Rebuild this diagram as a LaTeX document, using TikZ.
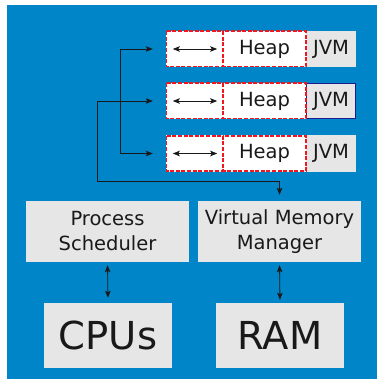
\documentclass[tikz,border=0pt]{standalone}
\usepackage{fontspec}
\setmainfont{DejaVu Sans}
\usetikzlibrary{arrows.meta}
\definecolor{panel}{HTML}{0085C8}
\definecolor{boxgray}{HTML}{E6E6E6}
\definecolor{dashred}{HTML}{F01820}
\definecolor{navy}{HTML}{1C1C8C}
\begin{document}
\begin{tikzpicture}[x=1pt,y=-1pt,
  every node/.style={font=\fontsize{19.5}{25}\selectfont, text=black!90, inner sep=0pt, anchor=center},
  slot/.style={fill=white, minimum height=36},
  redline/.style={draw=dashred, line width=1.6pt, dash pattern=on 4pt off 1.6pt},
  jvmbox/.style={fill=boxgray, minimum height=36, minimum width=50},
  block/.style={fill=boxgray, minimum width=163, minimum height=61, align=center},
  hwbox/.style={fill=boxgray, minimum width=128, minimum height=65, font=\fontsize{38.5}{44}\selectfont},
  conn/.style={-{Stealth[length=7pt,width=5.5pt,inset=1.5pt]}, line width=0.8pt, draw=black!90},
  dbl/.style={{Stealth[length=7pt,width=5.5pt,inset=1.5pt]}-{Stealth[length=7pt,width=5.5pt,inset=1.5pt]}, line width=0.8pt, draw=black!90}]
\useasboundingbox (0,0) rectangle (377,379);
\fill[panel] (7,5) rectangle (376.5,379);

% JVM labels
\node[jvmbox] (j1) at (331,49) {JVM};
\node[jvmbox, draw=navy, line width=1pt, minimum width=49, minimum height=35] (j2) at (331,101) {JVM};
\node[jvmbox] (j3) at (331,153.5) {JVM};

% three JVM rows: slot and heap with dashed red outlines
\foreach \r/\y in {1/49,2/101,3/153.5}{
  \node[slot, minimum width=57] (a\r) at (194.5,\y) {};
  \node[slot, minimum width=83] (h\r) at (264.5,\y) {Heap};
  \draw[redline] ([shift={(0.5,0.5)}]a\r.north west) rectangle ([shift={(-0.5,-0.5)}]a\r.south east);
  \draw[redline] ([shift={(0.5,0.5)}]h\r.north west) rectangle ([shift={(-0.5,-0.5)}]h\r.south east);
  \draw[dbl] ([xshift=7pt]a\r.west) -- ([xshift=-6pt]a\r.east);
}

% operating system blocks
\node[block] (ps) at (107.5,231.5) {Process\\Scheduler};
\node[block] (vmm) at (279.5,231.5) {Virtual Memory\\Manager};
\node[hwbox] (cpu) at (108,335.5) {CPUs};
\node[hwbox] (ram) at (280,335.5) {RAM};

% scheduler fan-out to the JVMs
\coordinate (bus) at (120,101);
\coordinate (bend) at (97,101);
\coordinate (turn) at (279.5,181);
\draw[line width=0.8pt, draw=black!90] (bus |- a1.west) -- (bus |- a3.west);
\draw[conn, shorten >=13pt] (bus |- a1.west) -- (a1.west);
\draw[conn, shorten >=13pt] (bus |- a3.west) -- (a3.west);
\draw[conn, shorten >=13pt] (bend) -- (a2.west);
\draw[conn, shorten >=6pt] (bend) |- (turn) -- (vmm.north);

% hardware links
\draw[dbl, shorten <=3pt, shorten >=5pt] (ps.south) -- (cpu.north);
\draw[dbl, shorten <=3pt, shorten >=3pt] (vmm.south) -- (ram.north);
\end{tikzpicture}
\end{document}
